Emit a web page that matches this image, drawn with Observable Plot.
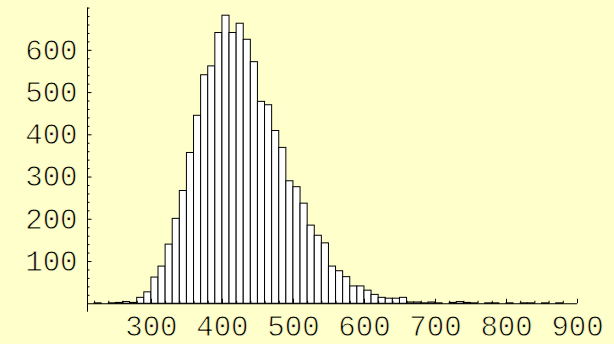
<!DOCTYPE html>
<html>
<head>
<meta charset="utf-8">
<script src="https://cdn.jsdelivr.net/npm/d3@7"></script>
<script src="https://cdn.jsdelivr.net/npm/@observablehq/plot@0.6"></script>
<style>
  html, body { margin: 0; padding: 0; background: #FFFFCC; }
  #chart svg { display: block; }
</style>
</head>
<body>
<div id="chart"></div>
<script>
// Histogram bins (lower edges) and counts, bin width 10
const binStart = [210,220,230,240,250,260,270,280,290,300,310,320,330,340,350,360,370,380,390,400,
  410,420,430,440,450,460,470,480,490,500,510,520,530,540,550,560,570,580,590,600,
  610,620,630,640,650,660,670,680,690,700,710,720,730,740,750,760,770,780,790,800,
  810,820,830,840,850,860,870,880,890];
const counts = [0,1,0,1,2,4,2,14,27,62,88,140,201,267,357,445,541,562,641,682,
  641,663,625,572,478,470,409,369,290,276,237,185,161,143,88,77,63,41,41,31,
  21,14,12,12,14,3,3,1,3,1,0,2,4,2,1,0,1,1,0,1,
  0,1,1,0,1,0,1,0,0];
const binWidth = 10;
const xTickLabels = [300,400,500,600,700,800,900];
const xMinorTicks = [220,240,260,280,320,340,360,380,420,440,460,480,520,540,560,580,620,640,660,680,720,740,760,780,820,840,860,880];
const yTickLabels = [100,200,300,400,500,600];
const yMinorTicks = [20,40,60,80,120,140,160,180,220,240,260,280,320,340,360,380,420,440,460,480,520,540,560,580,620,640,660,680,700];

const bins = binStart.map((b, i) => ({x1: b, x2: b + binWidth, count: counts[i]}));

const labelStyle = {fill: "#000", fontSize: 29, stroke: "#FFFFCC", strokeWidth: 0.8, paintOrder: "fill"};

const chart = Plot.plot({
  width: 614,
  height: 344,
  marginLeft: 87,
  marginRight: 37,
  marginTop: 7.6,
  marginBottom: 32.3,
  style: {background: "#FFFFCC", fontFamily: "'Liberation Mono', 'Courier New', monospace", fontSize: "29px", color: "#222"},
  x: {domain: [210, 900], axis: null},
  y: {domain: [-20, 700], axis: null},
  marks: [
    Plot.rectY(bins, {x1: "x1", x2: "x2", y1: 0, y2: "count", fill: "white", stroke: "black", strokeWidth: 1}),
    // x axis line at y = 0
    Plot.ruleY([0], {x1: 210, x2: 900, stroke: "black", strokeWidth: 1}),
    // y axis line
    Plot.ruleX([210], {stroke: "black", strokeWidth: 1}),
    // x ticks pointing up
    Plot.ruleX(xTickLabels, {x: d => d, y1: 0, y2: 0, insetTop: -4.5, stroke: "black"}),
    Plot.ruleX(xMinorTicks, {x: d => d, y1: 0, y2: 0, insetTop: -2.5, stroke: "black"}),
    // y ticks pointing right
    Plot.ruleY(yTickLabels, {y: d => d, x1: 210, x2: 210, insetRight: -4.5, stroke: "black"}),
    Plot.ruleY(yMinorTicks, {y: d => d, x1: 210, x2: 210, insetRight: -2.5, stroke: "black"}),
    // labels
    Plot.text(xTickLabels, {x: d => d, y: 0, text: d => String(d), dy: 23, ...labelStyle}),
    Plot.text(yTickLabels, {y: d => d, x: 210, text: d => String(d), dx: -10, textAnchor: "end", ...labelStyle})
  ]
});
document.getElementById("chart").appendChild(chart);
</script>
</body>
</html>
